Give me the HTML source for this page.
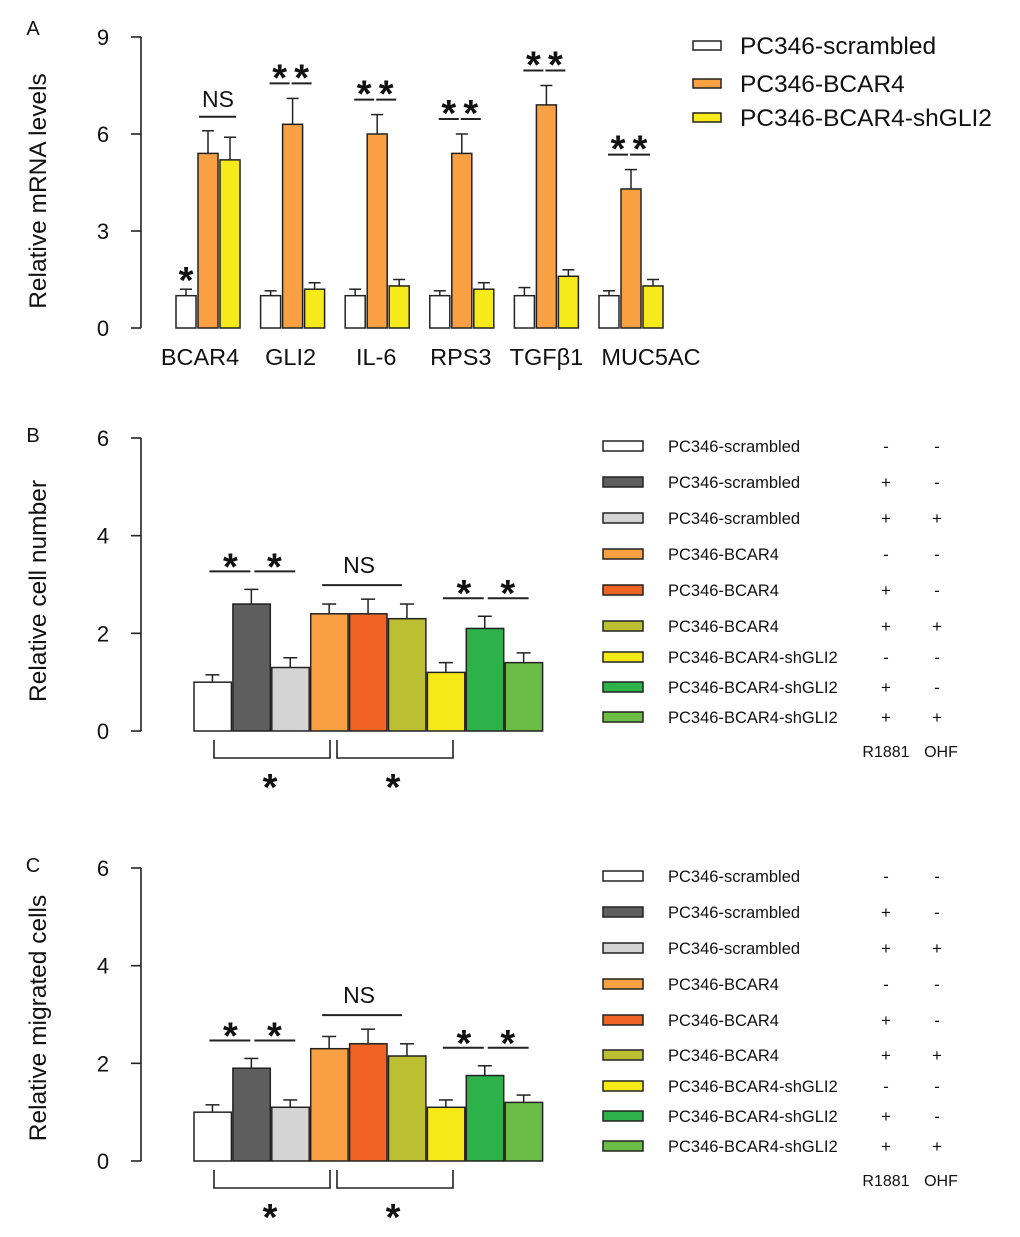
<!DOCTYPE html>
<html><head><meta charset="utf-8">
<style>
html,body{margin:0;padding:0;background:#fff;}
svg{display:block;font-family:"Liberation Sans",Arial,sans-serif;}
</style></head>
<body>
<svg id="chart" width="1020" height="1237" viewBox="0 0 1020 1237" xmlns="http://www.w3.org/2000/svg"></svg>
<script>
// Panel A data
const genes = ["BCAR4","GLI2","IL-6","RPS3","TGFβ1","MUC5AC"];
const seriesA = ["PC346-scrambled","PC346-BCAR4","PC346-BCAR4-shGLI2"];
const scrambledA = [1,1,1,1,1,1];
const scrambledErrA = [0.2,0.15,0.2,0.15,0.25,0.15];
const bcar4A = [5.4,6.3,6.0,5.4,6.9,4.3];
const bcar4ErrA = [0.7,0.8,0.6,0.6,0.6,0.6];
const shgliA = [5.2,1.2,1.3,1.2,1.6,1.3];
const shgliErrA = [0.7,0.2,0.2,0.2,0.2,0.2];
const ticksA = [0,3,6,9];
// Panel B/C data
const groupLabels = ["PC346-scrambled","PC346-scrambled","PC346-scrambled","PC346-BCAR4","PC346-BCAR4","PC346-BCAR4","PC346-BCAR4-shGLI2","PC346-BCAR4-shGLI2","PC346-BCAR4-shGLI2"];
const r1881 = ["-","+","+","-","+","+","-","+","+"];
const ohf = ["-","-","+","-","-","+","-","-","+"];
const cellNumber = [1.0,2.6,1.3,2.4,2.4,2.3,1.2,2.1,1.4];
const cellNumberErr = [0.15,0.3,0.2,0.2,0.3,0.3,0.2,0.25,0.2];
const migrated = [1.0,1.9,1.1,2.3,2.4,2.15,1.1,1.75,1.2];
const migratedErr = [0.15,0.2,0.15,0.25,0.3,0.25,0.15,0.2,0.15];
const ticksBC = [0,2,4,6];

const colorsA = ["#ffffff","#f9a043","#f7ea1a"];
const colorsBC = ["#ffffff","#5e5e5e","#d4d4d4","#f9a043","#f06322","#bcbf32","#f6ea16","#2db24a","#6cbd45"];
const labelShiftA = [24,30,31,31,32,52];
const svg = document.getElementById('chart');
const NS = "http://www.w3.org/2000/svg";
function mk(tag, attrs, parent){const e=document.createElementNS(NS,tag);for(const k in attrs)e.setAttribute(k,attrs[k]);(parent||svg).appendChild(e);return e;}
function txt(s,x,y,size,anchor,parent){const t=mk('text',{x:x,y:y,'font-size':size,'text-anchor':anchor||'middle',fill:'#111'},parent);t.textContent=s;return t;}
function line(x1,y1,x2,y2,parent,w){return mk('line',{x1:x1,y1:y1,x2:x2,y2:y2,stroke:'#222','stroke-width':w||1.6},parent);}
function star(x,cy,parent){const t=txt("*",x,cy+22,38,'middle',parent);t.setAttribute('font-weight','bold');

return t;}

// ---------- Panel A ----------
const gA = mk('g',{});


const yA = v => 328 - v*(328-37)/9;
const panelLetterA = txt("A",33,35,20,'middle',gA);


line(141,37,141,328,gA);
ticksA.forEach(t=>{line(131,yA(t),141,yA(t),gA);const l=txt(String(t),103,yA(t)+8,22,'middle',gA);

});
const yTitleA = txt("Relative mRNA levels",0,0,24.5,'middle',gA);
yTitleA.setAttribute('transform','translate(46,191) rotate(-90)');


const dataA=[scrambledA,bcar4A,shgliA], errA=[scrambledErrA,bcar4ErrA,shgliErrA];
genes.forEach((g,i)=>{
  const x0 = 176 + i*84.6;
  for(let s=0;s<3;s++){
    const x = x0 + s*22, v=dataA[s][i], e=errA[s][i];
    const b = mk('rect',{x:x,y:yA(v),width:20,height:yA(0)-yA(v),fill:colorsA[s],stroke:'#222','stroke-width':1.5},gA);
    
    
    line(x+10,yA(v),x+10,yA(v+e),gA,1.5); line(x+4,yA(v+e),x+16,yA(v+e),gA,1.5);
  }
  const lab = txt(g,x0+labelShiftA[i],365,23.5,'middle',gA);
  
  
  if(i===0){
    star(x0+10,yA(scrambledA[0]+scrambledErrA[0])-18,gA);
    const top=yA(bcar4A[0]+bcar4ErrA[0])-14;
    line(x0+23,top,x0+60,top,gA,2); txt("NS",x0+42,top-10,23,'middle',gA);
  } else {
    const top=yA(bcar4A[i]+bcar4ErrA[i])-15;
    line(x0+9,top,x0+29,top,gA,2); line(x0+31,top,x0+51,top,gA,2);
    star(x0+19,top-15,gA); star(x0+41,top-15,gA);
  }
});
seriesA.forEach((s,i)=>{
  const y=[45,83,117][i];
  const sw=mk('rect',{x:693,y:y-4,width:28,height:9,fill:colorsA[i],stroke:'#222','stroke-width':1.5},gA);
  
  
  const t=txt(s,740,y+9,24.5,'start',gA);
  
  
});

// ---------- Panels B & C ----------
function panel(letter,top0,vals,errs,title,titleCenter,legendRows){
  const g=mk('g',{});
  
  
  const y0=top0+293, y6=top0;
  const y = v => y0 - v*(y0-y6)/6;
  txt(letter,33,top0+4,20,'middle',g);
  line(141,y6,141,y0,g);
  ticksBC.forEach(t=>{line(131,y(t),141,y(t),g);txt(String(t),103,y(t)+8,22,'middle',g);});
  const tt=txt(title,0,0,24.5,'middle',g);
  tt.setAttribute('transform','translate(46,'+titleCenter+') rotate(-90)');
  
  
  const bw=38.9, xs=194;
  vals.forEach((v,i)=>{
    const x=xs+i*bw;
    const b=mk('rect',{x:x,y:y(v),width:bw-1.5,height:y0-y(v),fill:colorsBC[i],stroke:'#222','stroke-width':1.5},g);
    
    
    const cx=x+bw/2-1;
    line(cx,y(v),cx,y(v+errs[i]),g,1.5); line(cx-7,y(v+errs[i]),cx+7,y(v+errs[i]),g,1.5);
  });
  const cx=i=>xs+i*bw+bw/2;
  const l1=y(vals[1]+errs[1])-18;
  line(cx(0)-4,l1,cx(1)-2,l1,g,2); line(cx(1)+2,l1,cx(2)+4,l1,g,2);
  star(cx(0)+17,l1-14,g); star(cx(1)+22,l1-14,g);
  const l2=y(Math.max(vals[3]+errs[3],vals[4]+errs[4],vals[5]+errs[5]))-14;
  line(cx(3)-8,l2,cx(5)-6,l2,g,2); txt("NS",cx(4)-10,l2-12,23,'middle',g);
  const l3=y(vals[7]+errs[7])-18;
  line(cx(6)-4,l3,cx(7)-2,l3,g,2); line(cx(7)+2,l3,cx(8)+4,l3,g,2);
  star(cx(6)+17,l3-14,g); star(cx(7)+22,l3-14,g);
  const by=y0+27;
  mk('polyline',{points:`214,${y0+9} 214,${by} 330,${by} 330,${y0+9}`,fill:'none',stroke:'#222','stroke-width':1.6},g);
  mk('polyline',{points:`337,${y0+9} 337,${by} 453,${by} 453,${y0+9}`,fill:'none',stroke:'#222','stroke-width':1.6},g);
  star(270,by+20,g); star(393,by+20,g);
  legendRows.forEach((ry,i)=>{
    const sw=mk('rect',{x:603,y:ry-5,width:40,height:10,fill:colorsBC[i],stroke:'#222','stroke-width':1.5},g);
    
    
    const t=txt(groupLabels[i],668,ry+6,16.5,'start',g);
    
    
    txt(r1881[i],886,ry+6,17,'middle',g); txt(ohf[i],937,ry+6,17,'middle',g);
  });
  const last=legendRows[legendRows.length-1]+40;
  txt("R1881",886,last,16,'middle',g); txt("OHF",941,last,16,'middle',g);
}
panel("B",438,cellNumber,cellNumberErr,"Relative cell number",591,[446,482,518,554,590,626,657,687,717]);
panel("C",868,migrated,migratedErr,"Relative migrated cells",1018,[876,912,948,984,1020,1055,1086,1116,1146]);
</script>
</body></html>
